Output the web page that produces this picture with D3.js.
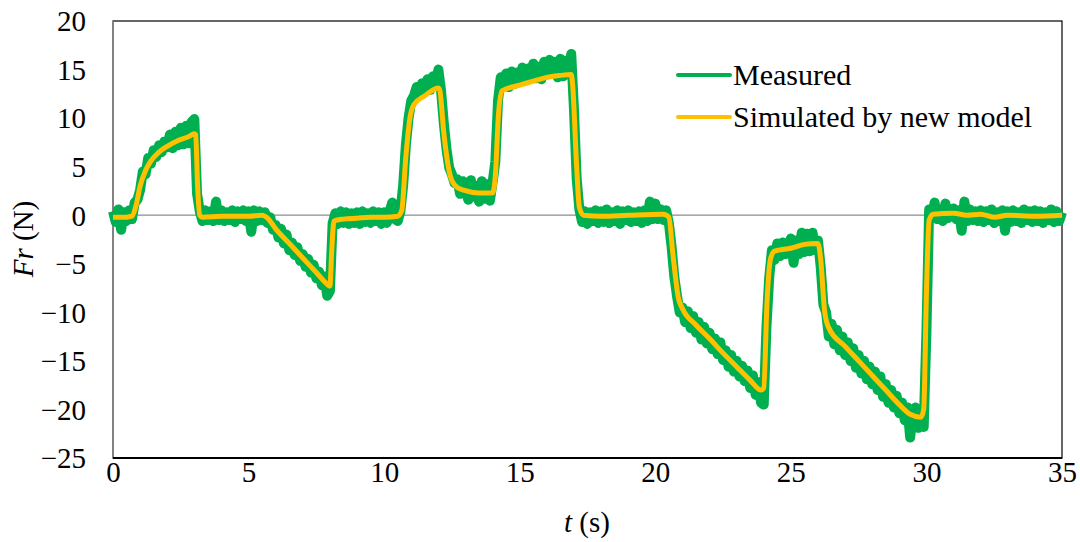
<!DOCTYPE html>
<html>
<head>
<meta charset="utf-8">
<script src="https://cdn.jsdelivr.net/npm/d3@7"></script>
<style>
  html, body { margin: 0; padding: 0; background: #fff; }
  svg { display: block; }
  svg text { font-family: 'Liberation Serif', 'Times New Roman', serif; fill: #000; }
</style>
</head>
<body>
<svg id="chart" width="1080" height="542"></svg>
<script>
// Axis ticks
const xTicks = [0, 5, 10, 15, 20, 25, 30, 35];
const yTicks = [20, 15, 10, 5, 0, -5, -10, -15, -20, -25];

// Measured force, sampled every 0.1 s from t = 0 s to t = 35 s
const measuredStart = 0;
const measuredStep = 0.1;
const measured = [
  0.4,-0.7,0.6,-1.5,0.3,-0.6,0.5,-0.4,1.3,1.6,
  2.6,4.5,4.2,5.9,5.3,6.7,6.0,7.2,6.5,7.6,
  7.0,8.3,6.9,8.6,7.2,9.0,7.3,9.2,7.4,9.6,
  9.9,2.2,0.4,-0.6,0.5,-0.5,0.4,-0.6,1.4,-0.5,
  0.5,-0.6,0.3,-0.5,0.5,-0.7,0.4,-0.4,0.5,-0.6,
  0.4,-1.7,0.5,-0.6,0.4,-0.5,0.3,-0.8,-0.2,-1.5,
  -1.0,-2.3,-1.4,-2.9,-2.0,-3.6,-2.8,-4.1,-3.3,-4.7,
  -4.0,-5.3,-4.5,-5.9,-5.1,-6.5,-5.8,-7.2,-6.3,-8.3,
  -7.8,-0.8,0.2,-0.9,0.4,-0.8,0.3,-0.9,0.2,-0.8,
  0.3,-0.9,0.4,-0.7,0.2,-0.8,0.4,-0.6,0.3,-0.9,
  0.3,-0.8,0.4,1.3,-0.4,-0.6,0.4,3.0,7.2,10.0,
  11.8,12.3,13.2,12.4,13.6,12.8,14.0,12.9,14.3,13.4,
  15.0,12.8,9.5,6.8,4.9,4.2,3.3,3.7,2.2,3.5,
  3.3,1.6,3.6,1.9,3.0,1.4,3.5,1.7,3.2,1.5,
  3.4,5.5,11.8,14.2,13.4,14.6,13.2,14.8,13.5,14.7,
  14.0,15.2,13.9,15.1,14.2,15.6,14.1,15.3,14.0,15.8,
  14.5,16.0,14.6,15.8,14.2,16.1,14.3,15.9,14.6,16.6,
  11.0,3.8,0.6,-0.7,0.4,-0.9,0.3,-0.6,0.5,-0.8,
  0.4,-0.7,0.6,-0.8,0.3,-0.6,0.5,-0.9,0.4,-0.5,
  0.5,-0.7,0.3,-0.6,0.4,-0.8,0.5,-0.6,1.4,-0.4,
  1.2,-0.4,0.6,-0.5,0.5,-0.8,-3.2,-6.3,-8.3,-10.0,
  -9.5,-11.0,-9.9,-11.6,-10.4,-12.1,-11.0,-12.8,-11.5,-13.2,
  -12.1,-13.8,-12.7,-14.3,-13.1,-14.9,-13.9,-15.6,-14.4,-16.1,
  -15.0,-16.6,-15.5,-17.1,-16.0,-17.8,-16.5,-18.5,-17.2,-19.3,
  -19.5,-11.5,-6.5,-3.6,-4.6,-2.9,-4.2,-2.8,-4.0,-3.0,
  -2.4,-4.9,-2.6,-4.0,-1.8,-3.8,-1.9,-3.7,-1.8,-3.6,
  -2.6,-5.3,-9.2,-10.0,-12.5,-11.2,-13.3,-11.8,-13.9,-12.5,
  -14.4,-13.1,-15.0,-13.7,-15.7,-14.4,-16.3,-15.0,-16.9,-15.6,
  -17.4,-16.1,-18.0,-16.6,-18.7,-17.4,-19.3,-18.0,-19.8,-18.6,
  -20.4,-19.3,-21.1,-19.8,-22.9,-20.2,-19.8,-21.9,-20.3,-21.8,
  -12.0,0.6,-0.3,1.3,-0.4,0.6,-0.6,1.2,-0.3,0.5,
  0.7,-0.4,0.5,-1.6,1.4,-0.6,0.6,-0.5,0.4,-0.6,
  0.5,-0.7,0.4,-0.5,0.6,-0.8,0.3,-0.6,0.5,-1.6,
  0.4,-0.7,0.5,-0.6,0.3,-0.8,0.6,-0.5,0.4,-0.7,
  0.5,-0.6,0.4,-0.8,0.3,-0.5,0.6,-0.7,0.4,-0.6,
  0.3
];

// Force simulated by the new model
const simTime = [
  0, 0.5, 0.7, 0.85, 1.0, 1.2, 1.4, 1.7, 2.0, 2.4, 2.8, 3.0, 3.05, 3.12, 3.2, 3.3,
  4.0, 5.0, 5.5, 5.7, 6.0, 6.5, 7.0, 7.5, 7.9, 8.0, 8.07, 8.15, 8.5, 9.0, 9.5, 10.0,
  10.5, 10.65, 10.8, 10.95, 11.1, 11.5, 12.0, 12.05, 12.2, 12.4, 12.6, 12.9, 13.5, 14.0,
  14.1, 14.22, 14.35, 15.0, 15.5, 16.0, 16.5, 16.9, 16.95, 17.1, 17.2, 17.35, 18.0, 19.0,
  20.3, 20.5, 20.65, 20.85, 21.0, 21.5, 22.0, 22.5, 23.0, 23.5, 23.9, 24.0, 24.12, 24.25,
  24.4, 25.0, 25.5, 26.0, 26.1, 26.25, 26.4, 27.0, 27.5, 28.0, 28.5, 29.0, 29.4, 29.8,
  29.9, 30.0, 30.1, 30.25, 31.0, 31.5, 32.0, 32.5, 33.0, 34.0, 35.0
];
const simValue = [
  -0.2, -0.2, -0.1, 1.0, 3.0, 4.6, 5.6, 6.5, 7.1, 7.7, 8.1, 8.4, 8.3, 3.0, 0.0, -0.2,
  -0.1, -0.1, 0.0, -0.3, -1.4, -2.9, -4.4, -5.9, -7.1, -7.3, -3.5, -0.6, -0.4, -0.3, -0.2, -0.2,
  -0.1, 0.5, 6.0, 10.0, 11.4, 12.3, 13.1, 12.9, 8.5, 4.5, 3.1, 2.6, 2.3, 2.3,
  4.0, 10.5, 12.8, 13.4, 13.8, 14.2, 14.4, 14.5, 13.5, 5.0, 0.8, 0.0, -0.1, 0.0,
  0.1, -0.2, -4.0, -8.5, -9.6, -11.3, -12.7, -14.2, -15.6, -17.0, -18.0, -17.8, -9.0, -4.5,
  -3.7, -3.4, -3.0, -2.9, -4.5, -10.0, -11.6, -13.5, -15.0, -16.5, -18.0, -19.5, -20.5, -20.8,
  -20.0, -8.0, -0.5, 0.1, 0.2, 0.0, 0.1, -0.2, 0.0, -0.1, 0.0
];

const seriesNames = ["Measured", "Simulated by new model"];
const seriesColors = ["#00B050", "#FFC000"];
const serif = "'Liberation Serif', 'Times New Roman', serif";

const svg = d3.select("#chart");
const plot = { left: 113, right: 1062, top: 21, bottom: 458 };

const x = d3.scaleLinear().domain([0, 35]).range([plot.left, plot.right]);
const y = d3.scaleLinear().domain([-25, 20]).range([plot.bottom, plot.top]);

// Plot area frame
svg.append("rect")
  .attr("x", plot.left).attr("y", plot.top)
  .attr("width", plot.right - plot.left).attr("height", plot.bottom - plot.top)
  .attr("fill", "none").attr("stroke", "#000").attr("stroke-width", 1.2);

// Zero reference line
svg.append("line")
  .attr("x1", x(0)).attr("x2", x(35))
  .attr("y1", y(0)).attr("y2", y(0))
  .attr("stroke", "#8c8c8c").attr("stroke-width", 1.2);

// Value axis line
svg.append("line")
  .attr("x1", plot.left).attr("x2", plot.left)
  .attr("y1", plot.top).attr("y2", plot.bottom)
  .attr("stroke", "#8c8c8c").attr("stroke-width", 1.5);

// Bottom axis line
svg.append("line")
  .attr("x1", plot.left).attr("x2", plot.right)
  .attr("y1", plot.bottom).attr("y2", plot.bottom)
  .attr("stroke", "#000").attr("stroke-width", 2);

// Y tick labels
const yAxis = d3.axisLeft(y).tickValues(yTicks).tickSize(0).tickPadding(27)
  .tickFormat(d3.format("d"));
const gy = svg.append("g").attr("transform", `translate(${plot.left},0)`).call(yAxis);
gy.attr("font-family", serif).attr("font-size", 29);
gy.select(".domain").remove();
gy.selectAll("text")
  .attr("font-family", serif).attr("font-size", 29)
  .attr("fill", "#000").attr("dy", "0.34em");

// X tick labels
const xAxis = d3.axisBottom(x).tickValues(xTicks).tickSize(0).tickPadding(24)
  .tickFormat(d3.format("d"));
const gx = svg.append("g").attr("transform", `translate(0,${plot.bottom})`).call(xAxis);
gx.attr("font-family", serif).attr("font-size", 29);
gx.select(".domain").remove();
gx.selectAll("text")
  .attr("font-family", serif).attr("font-size", 29)
  .attr("fill", "#000").attr("dy", "0");

// Series
const measuredLine = d3.line()
  .x((d, i) => x(measuredStart + i * measuredStep))
  .y(d => y(d));
svg.append("path")
  .datum(measured)
  .attr("d", measuredLine)
  .attr("fill", "none")
  .attr("stroke", seriesColors[0])
  .attr("stroke-width", 10)
  .attr("stroke-linejoin", "round");

const simLine = d3.line()
  .x((d, i) => x(simTime[i]))
  .y(d => y(d))
  .curve(d3.curveMonotoneX);
svg.append("path")
  .datum(simValue)
  .attr("d", simLine)
  .attr("fill", "none")
  .attr("stroke", seriesColors[1])
  .attr("stroke-width", 5)
  .attr("stroke-linejoin", "round");

// Legend
const legend = svg.append("g").attr("transform", "translate(678,75)");
seriesNames.forEach((name, i) => {
  const row = legend.append("g").attr("transform", `translate(0,${i * 42})`);
  row.append("line")
    .attr("x1", 0).attr("x2", 52).attr("y1", 0).attr("y2", 0)
    .attr("stroke", seriesColors[i]).attr("stroke-width", 4).attr("stroke-linecap", "round");
  row.append("text")
    .attr("x", 55).attr("y", 10)
    .attr("font-family", serif).attr("font-size", 30)
    .text(name);
});

// Axis titles
svg.append("text")
  .attr("x", 587).attr("y", 532)
  .attr("text-anchor", "middle")
  .attr("font-family", serif).attr("font-size", 29)
  .call(t => {
    t.append("tspan").attr("font-style", "italic").text("t");
    t.append("tspan").text(" (s)");
  });

svg.append("text")
  .attr("transform", "translate(33,239) rotate(-90)")
  .attr("text-anchor", "middle")
  .attr("font-family", serif).attr("font-size", 29)
  .call(t => {
    t.append("tspan").attr("font-style", "italic").text("Fr");
    t.append("tspan").text(" (N)");
  });
</script>
</body>
</html>
